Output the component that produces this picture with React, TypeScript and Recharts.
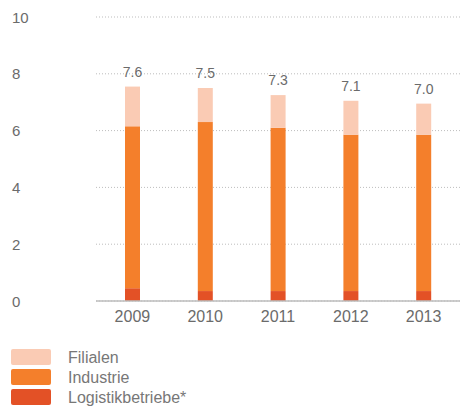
import { BarChart, Bar, XAxis, YAxis, CartesianGrid, LabelList } from 'recharts';

// values (Mio. ... per year)
const years = ['2009', '2010', '2011', '2012', '2013'];
const logistik = [0.45, 0.35, 0.35, 0.35, 0.35];
const industrie = [5.7, 5.95, 5.75, 5.5, 5.5];
const filialen = [1.4, 1.2, 1.15, 1.2, 1.1];
const totals = ['7.6', '7.5', '7.3', '7.1', '7.0'];
const yTicks = [0, 2, 4, 6, 8, 10];

const COLORS = {
  filialen: '#FACBB4',
  industrie: '#F47F2B',
  logistik: '#E35126',
};

const legendItems = [
  { name: 'Filialen', color: COLORS.filialen },
  { name: 'Industrie', color: COLORS.industrie },
  { name: 'Logistikbetriebe*', color: COLORS.logistik },
];

const data = years.map((year, i) => ({
  year,
  logistik: logistik[i],
  industrie: industrie[i],
  filialen: filialen[i],
  total: totals[i],
}));

const FONT = '"Liberation Sans", Arial, sans-serif';

const YTick = (props: any) => {
  const { y, payload } = props;
  return (
    <text x={12} y={y + 5.5} fill="#6b6b6b" fontSize={15} fontFamily={FONT} textAnchor="start">
      {payload.value}
    </text>
  );
};

const XTick = (props: any) => {
  const { x, y, payload } = props;
  return (
    <text x={x} y={y + 21} fill="#6b6b6b" fontSize={16} fontFamily={FONT} textAnchor="middle">
      {payload.value}
    </text>
  );
};

const TotalLabel = (props: any) => {
  const { x, y, width, index } = props;
  return (
    <text x={x + width / 2} y={y - 10} fill="#6b6b6b" fontSize={14} fontFamily={FONT} textAnchor="middle">
      {totals[index]}
    </text>
  );
};

const App = () => {
  return (
    <div style={{ position: 'absolute', left: 0, top: 0, width: 460, height: 412, background: '#fff', fontFamily: FONT }}>
      <BarChart
        width={460}
        height={331}
        data={data}
        margin={{ top: 17, right: 0, left: 0, bottom: 0 }}
        barSize={15}
      >
        <CartesianGrid vertical={false} stroke="#bdbdbd" strokeDasharray="1 2" />
        <XAxis
          dataKey="year"
          height={30}
          tickLine={false}
          tickSize={0}
          tickMargin={0}
          axisLine={{ stroke: '#bdbdbd', strokeWidth: 1.5 }}
          tick={<XTick />}
        />
        <YAxis
          width={96}
          domain={[0, 10]}
          ticks={yTicks}
          axisLine={false}
          tickLine={false}
          tick={<YTick />}
        />
        <Bar dataKey="logistik" stackId="a" fill={COLORS.logistik} isAnimationActive={false} />
        <Bar dataKey="industrie" stackId="a" fill={COLORS.industrie} isAnimationActive={false} />
        <Bar dataKey="filialen" stackId="a" fill={COLORS.filialen} isAnimationActive={false}>
          <LabelList dataKey="total" content={<TotalLabel />} />
        </Bar>
      </BarChart>
      <div style={{ position: 'absolute', left: 11, top: 349 }}>
        {legendItems.map((item) => (
          <div key={item.name} style={{ display: 'flex', alignItems: 'center', height: 20 }}>
            <div style={{ width: 40, height: 16, background: item.color, borderRadius: 2, marginTop: -4 }} />
            <span style={{ marginLeft: 17, fontSize: 16, color: '#777', lineHeight: '20px', marginTop: -2 }}>
              {item.name}
            </span>
          </div>
        ))}
      </div>
    </div>
  );
};

export default App;
